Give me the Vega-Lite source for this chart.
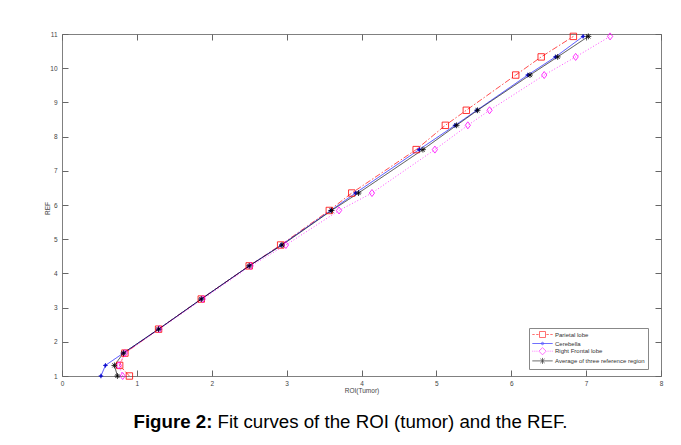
{
  "$schema": "https://vega.github.io/schema/vega-lite/v6.json",
  "width": 599,
  "height": 342,
  "autosize": {"type": "none"},
  "padding": {"left": 62, "top": 34, "right": 20, "bottom": 69},
  "background": "white",
  "config": {
    "view": {"stroke": "#808080", "strokeWidth": 1},
    "font": "Liberation Sans"
  },
  "data": {
    "values": [
      {"series": "Parietal lobe", "roi": 0.90, "ref": 1.0},
      {"series": "Parietal lobe", "roi": 0.77, "ref": 1.31},
      {"series": "Parietal lobe", "roi": 0.84, "ref": 1.67},
      {"series": "Parietal lobe", "roi": 1.29, "ref": 2.37},
      {"series": "Parietal lobe", "roi": 1.86, "ref": 3.25},
      {"series": "Parietal lobe", "roi": 2.50, "ref": 4.22},
      {"series": "Parietal lobe", "roi": 2.92, "ref": 4.83},
      {"series": "Parietal lobe", "roi": 3.57, "ref": 5.84},
      {"series": "Parietal lobe", "roi": 3.87, "ref": 6.35},
      {"series": "Parietal lobe", "roi": 4.73, "ref": 7.62},
      {"series": "Parietal lobe", "roi": 5.12, "ref": 8.33},
      {"series": "Parietal lobe", "roi": 5.40, "ref": 8.77},
      {"series": "Parietal lobe", "roi": 6.06, "ref": 9.80},
      {"series": "Parietal lobe", "roi": 6.40, "ref": 10.33},
      {"series": "Parietal lobe", "roi": 6.83, "ref": 10.93},
      {"series": "Cerebella", "roi": 0.52, "ref": 1.0},
      {"series": "Cerebella", "roi": 0.58, "ref": 1.31},
      {"series": "Cerebella", "roi": 0.82, "ref": 1.67},
      {"series": "Cerebella", "roi": 1.29, "ref": 2.37},
      {"series": "Cerebella", "roi": 1.86, "ref": 3.25},
      {"series": "Cerebella", "roi": 2.50, "ref": 4.22},
      {"series": "Cerebella", "roi": 2.93, "ref": 4.83},
      {"series": "Cerebella", "roi": 3.59, "ref": 5.84},
      {"series": "Cerebella", "roi": 3.92, "ref": 6.35},
      {"series": "Cerebella", "roi": 4.77, "ref": 7.62},
      {"series": "Cerebella", "roi": 5.25, "ref": 8.33},
      {"series": "Cerebella", "roi": 5.54, "ref": 8.77},
      {"series": "Cerebella", "roi": 6.22, "ref": 9.80},
      {"series": "Cerebella", "roi": 6.59, "ref": 10.33},
      {"series": "Cerebella", "roi": 6.96, "ref": 10.93},
      {"series": "Right Frontal lobe", "roi": 0.81, "ref": 1.0},
      {"series": "Right Frontal lobe", "roi": 0.76, "ref": 1.31},
      {"series": "Right Frontal lobe", "roi": 0.84, "ref": 1.67},
      {"series": "Right Frontal lobe", "roi": 1.30, "ref": 2.37},
      {"series": "Right Frontal lobe", "roi": 1.88, "ref": 3.25},
      {"series": "Right Frontal lobe", "roi": 2.52, "ref": 4.22},
      {"series": "Right Frontal lobe", "roi": 2.99, "ref": 4.83},
      {"series": "Right Frontal lobe", "roi": 3.70, "ref": 5.84},
      {"series": "Right Frontal lobe", "roi": 4.14, "ref": 6.35},
      {"series": "Right Frontal lobe", "roi": 4.98, "ref": 7.62},
      {"series": "Right Frontal lobe", "roi": 5.42, "ref": 8.33},
      {"series": "Right Frontal lobe", "roi": 5.71, "ref": 8.77},
      {"series": "Right Frontal lobe", "roi": 6.44, "ref": 9.80},
      {"series": "Right Frontal lobe", "roi": 6.86, "ref": 10.33},
      {"series": "Right Frontal lobe", "roi": 7.32, "ref": 10.93},
      {"series": "Average of three reference region", "roi": 0.74, "ref": 1.0},
      {"series": "Average of three reference region", "roi": 0.70, "ref": 1.31},
      {"series": "Average of three reference region", "roi": 0.82, "ref": 1.67},
      {"series": "Average of three reference region", "roi": 1.29, "ref": 2.37},
      {"series": "Average of three reference region", "roi": 1.86, "ref": 3.25},
      {"series": "Average of three reference region", "roi": 2.50, "ref": 4.22},
      {"series": "Average of three reference region", "roi": 2.94, "ref": 4.83},
      {"series": "Average of three reference region", "roi": 3.60, "ref": 5.84},
      {"series": "Average of three reference region", "roi": 3.96, "ref": 6.35},
      {"series": "Average of three reference region", "roi": 4.82, "ref": 7.62},
      {"series": "Average of three reference region", "roi": 5.27, "ref": 8.33},
      {"series": "Average of three reference region", "roi": 5.55, "ref": 8.77},
      {"series": "Average of three reference region", "roi": 6.25, "ref": 9.80},
      {"series": "Average of three reference region", "roi": 6.62, "ref": 10.33},
      {"series": "Average of three reference region", "roi": 7.03, "ref": 10.93}
    ]
  },
  "resolve": {
    "axis": {"x": "independent", "y": "independent"},
    "scale": {"color": "independent", "shape": "independent"},
    "legend": {"color": "independent", "shape": "independent"}
  },
  "layer": [
    {
      "mark": {"type": "line", "strokeWidth": 0.7},
      "encoding": {
        "x": {"field": "roi", "type": "quantitative",
          "scale": {"domain": [0, 8], "nice": false, "zero": false},
          "axis": {"orient": "bottom", "values": [0,1,2,3,4,5,6,7,8], "format": "d", "grid": false, "domain": false,
            "ticks": true, "tickSize": -6, "tickColor": "#666", "labelFlush": false,
            "labelFontSize": 6.5, "labelColor": "#444", "labelPadding": 10,
            "title": "ROI(Tumor)", "titleFontSize": 6.5, "titleFontWeight": "normal", "titleColor": "#444",
            "titleX": 299.5, "titleY": 14.5, "titleAlign": "center", "titleBaseline": "middle", "titleAnchor": null}},
        "y": {"field": "ref", "type": "quantitative",
          "scale": {"domain": [1, 11], "nice": false, "zero": false},
          "axis": {"orient": "left", "values": [1,2,3,4,5,6,7,8,9,10,11], "format": "d", "grid": false, "domain": false,
            "ticks": true, "tickSize": -6, "tickColor": "#666", "labelFlush": false,
            "labelFontSize": 6.5, "labelColor": "#444", "labelPadding": 11,
            "title": "REF", "titleFontSize": 6.5, "titleFontWeight": "normal", "titleColor": "#444",
            "titleX": -14.5, "titleY": 174, "titleAlign": "center", "titleBaseline": "middle", "titleAngle": -90, "titleAnchor": null}},
        "order": {"field": "ref", "type": "quantitative"},
        "color": {"field": "series", "type": "nominal", "legend": null,
          "scale": {"domain": ["Parietal lobe", "Cerebella", "Right Frontal lobe", "Average of three reference region"],
            "range": ["#ff0000", "#0000ff", "#ff00ff", "#000000"]}},
        "strokeDash": {"field": "series", "type": "nominal", "legend": null,
          "scale": {"domain": ["Parietal lobe", "Cerebella", "Right Frontal lobe", "Average of three reference region"],
            "range": [[6, 2, 1.5, 2], [1, 0], [1, 2], [1, 0]]}}
      }
    },
    {
      "mark": {"type": "point", "filled": false, "strokeWidth": 0.8, "opacity": 1, "size": 34},
      "encoding": {
        "x": {"field": "roi", "type": "quantitative", "axis": null},
        "y": {"field": "ref", "type": "quantitative", "axis": null},
        "color": {"field": "series", "type": "nominal", "legend": null,
          "scale": {"domain": ["Parietal lobe", "Cerebella", "Right Frontal lobe", "Average of three reference region"],
            "range": ["#ff0000", "#0000cc", "#ff00ff", "#000000"]}},
        "shape": {"field": "series", "type": "nominal", "legend": null,
          "scale": {"domain": ["Parietal lobe", "Cerebella", "Right Frontal lobe", "Average of three reference region"],
            "range": [
              "M-1.1,-1.1L1.1,-1.1L1.1,1.1L-1.1,1.1Z",
              "M-0.4,0A0.4,0.4 0 1,0 0.4,0A0.4,0.4 0 1,0 -0.4,0M-0.8,0L0.8,0M0,-0.8L0,0.8",
              "M-0.9,0L0,-1.2L0.9,0L0,1.2Z",
              "M-1,0L1,0M0,-1L0,1M-0.7,-0.7L0.7,0.7M-0.7,0.7L0.7,-0.7"
            ]}}
      }
    },
    {
      "transform": [{"filter": "datum.roi < 0"}],
      "mark": {"type": "point", "filled": false, "strokeWidth": 0.8},
      "encoding": {
        "color": {"field": "series", "type": "nominal",
          "scale": {"domain": ["Parietal lobe", "Cerebella", "Right Frontal lobe", "Average of three reference region"],
            "range": ["#ff0000", "#0000ff", "#ff00ff", "#000000"]},
          "legend": {"title": null, "orient": "none", "legendX": 467, "legendY": 294,
            "labelFontSize": 6, "labelColor": "#333", "labelFont": "Liberation Sans",
            "symbolSize": 36, "symbolStrokeWidth": 0.8, "symbolOffset": 7, "labelOffset": 9,
            "padding": 3, "rowPadding": -1.3, "strokeColor": "#888", "fillColor": "white", "cornerRadius": 0}},
        "shape": {"field": "series", "type": "nominal",
          "scale": {"domain": ["Parietal lobe", "Cerebella", "Right Frontal lobe", "Average of three reference region"],
            "range": [
              "M-3.4,0L-2.6,0M-2.1,0L-1.3,0M-1,-1L1,-1L1,1L-1,1ZM1.3,0L2.1,0M2.6,0L3.4,0",
              "M-3.4,0L3.4,0M-0.4,0A0.4,0.4 0 1,0 0.4,0A0.4,0.4 0 1,0 -0.4,0",
              "M-3.4,0L-3.1,0M-2.7,0L-2.4,0M-2,0L-1.7,0M-1.2,0L0,-1.2L1.2,0L0,1.2ZM1.7,0L2,0M2.4,0L2.7,0M3.1,0L3.4,0",
              "M-3.4,0L3.4,0M0,-1L0,1M-0.7,-0.7L0.7,0.7M-0.7,0.7L0.7,-0.7"
            ]},
          "legend": {"title": null, "orient": "none", "legendX": 467, "legendY": 294,
            "labelFontSize": 6, "labelColor": "#333", "labelFont": "Liberation Sans",
            "symbolSize": 36, "symbolStrokeWidth": 0.8, "symbolOffset": 7, "labelOffset": 9,
            "padding": 3, "rowPadding": -1.3, "strokeColor": "#888", "fillColor": "white", "cornerRadius": 0}}
      }
    },
    {
      "mark": {"type": "point", "opacity": 0},
      "encoding": {
        "x": {"field": "roi", "type": "quantitative",
          "axis": {"orient": "top", "values": [0,1,2,3,4,5,6,7,8], "grid": false, "domain": false, "labels": false,
            "ticks": true, "tickSize": -6, "tickColor": "#666",
            "title": "Figure 2:", "titleFontSize": 18.7, "titleFontWeight": "bold", "titleColor": "#000", "titleFont": "Liberation Sans",
            "titleX": 71, "titleY": 393, "titleAlign": "left", "titleBaseline": "alphabetic", "titleAngle": 0, "titleAnchor": null}},
        "y": {"field": "ref", "type": "quantitative",
          "axis": {"orient": "right", "values": [1,2,3,4,5,6,7,8,9,10,11], "grid": false, "domain": false, "labels": false,
            "ticks": true, "tickSize": -6, "tickColor": "#666",
            "title": "Fit curves of the ROI (tumor) and the REF.", "titleFontSize": 18.7, "titleFontWeight": "normal", "titleColor": "#000", "titleFont": "Liberation Sans",
            "titleX": -444, "titleY": 393, "titleAlign": "left", "titleBaseline": "alphabetic", "titleAngle": 0, "titleAnchor": null}}
      }
    }
  ]
}
